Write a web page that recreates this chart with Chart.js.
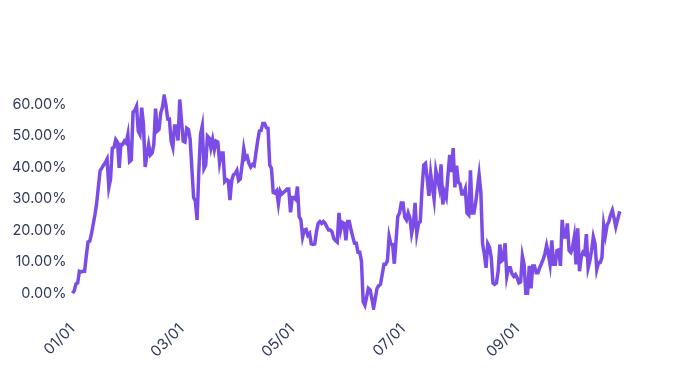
<!DOCTYPE html>
<html>
<head>
<meta charset="utf-8">
<script src="https://cdn.jsdelivr.net/npm/chart.js@4"></script>
<style>
  html, body { margin: 0; padding: 0; background: #fff; }
  #wrap { width: 690px; height: 388px; }
</style>
</head>
<body>
<div id="wrap"><canvas id="myChart"></canvas></div>
<script>
// tick labels shown on the x axis and the point index where each one sits
var tickLabels = ["01/01", "03/01", "05/01", "07/01", "09/01"];
var tickIndex = [0, 63, 127, 191, 257];
// y axis ticks, in %
var yTicks = [0, 10, 20, 30, 40, 50, 60];

// values in % from left to right
var rateA = [0, 0.8, 3, 3.3, 7, 6.8, 7, 7, 12, 16.3, 16.6, 19, 22, 25, 28.7, 34, 39, 39.8, 40.7, 41.5,
  42.6, 33.6, 36.3, 46, 46.3, 48.8, 48, 39.8, 47.2, 47.2, 48.3, 47.7, 50.4, 41.8, 42.3, 57.5, 58, 59.3, 51.5, 50.4,
  58.9, 53.7, 40.1, 43.9, 47.2, 43.9, 44.5, 47.2, 58.6, 51.5, 52, 57.2, 59.1, 62.6, 59.7, 55.3, 55.3, 48.3, 46.3, 53.1,
  53.1, 48.5, 61.5, 54.8, 48.3, 48, 52.4, 52, 48.8, 39.6, 30.4, 29.3, 23.3, 38.5, 50.4, 53.1, 39.6];
var rateB = [40.7, 49.9, 49.3, 46.1, 48.8, 45.6, 48.3, 48, 41.5, 44.5,
  44.5, 35.5, 36.1, 35.8, 29.6, 35.8, 37.6, 38, 39, 35.8,
  36.3, 40.7, 45.9, 42.8, 43.4, 41.2, 40.1, 40.9, 40.5, 44.5,
  48.3, 51.5, 51.7, 53.9, 53.9, 52.6, 52.4, 40.7, 39.6, 32,
  31.8, 32.5, 28.5, 32.5, 31.5, 32, 32.5, 33.1, 33.1, 25.7,
  30.4, 30.4, 29.8, 33.9, 24.4, 23.3, 17.9, 20.1, 20.3, 18.4,
  19, 15.7, 15.5, 15.7, 19.5, 22.2, 22.8, 22.2, 22.8, 22.2,
  21.1, 20.1, 20.1, 19.5, 17.4, 16.8, 16.3];
var rateC = [25.5, 20.1, 22.5, 22.2, 16.8, 22.8, 22.8, 20.1, 17.9, 15.9,
  15.9, 13, 13, 10.3, -2.7, -3.8, -1.1, 1.6, 1.1, -1.6,
  -4.7, -1.6, 1.6, 2.5, 2.9, 6, 9.2, 9.2, 10.3, 18.1,
  15.7, 15.5, 9.4, 16.8, 24.4, 25.5, 28.7, 28.7, 24.2, 23.3,
  25.5, 23.9, 19, 21.7, 28.7, 19, 22.2, 22.8, 33.1, 40.7,
  41.2, 36.3, 30.9, 38, 33.6, 29.8, 39, 36.3, 33.6, 40.9,
  28.2, 32, 30.4, 37.6, 43.9, 38.5, 46.1, 33.6, 40.5, 35.2,
  34.7, 31.5, 31.5, 33.1, 25.5];
var rateD = [24.9, 39, 25.5, 25.5, 28.7, 33.1, 37.6, 32, 15.7, 12.5,
  8.1, 15.7, 14.6, 11.4, 3.3, 2.9, 3.3, 7, 15.5, 10.3,
  10.8, 15.9, 5.4, 8.1, 8.1, 6.2, 5.4, 6, 4.9, 3.3,
  3.6, 11.9, 9.2, 0, 0, 8.7, 1.6, 8.7, 8.7, 6.5,
  6.5, 8.1, 9.4, 10.8, 12.5, 15.2, 12.5, 9.2, 16.8, 9.2,
  9.2, 13.6, 13.8, 8.7, 23.3, 17.9, 17.9, 22.2, 13.6, 13,
  14.6, 17.9, 9.2, 20.6, 7, 11.4, 13, 12.5, 18.8, 8.1,
  10.3, 13.6, 17.9, 15.7, 7.6, 9.8, 9.8, 11.4, 21.7, 18.4,
  21.7, 22.8, 24.9, 26.4, 23.9, 21.1, 23.3, 25.5, 25.3];

var yValues = rateA.concat(rateB, rateC, rateD);
var xValues = yValues.map(function (v, i) {
  var k = tickIndex.indexOf(i);
  return k >= 0 ? tickLabels[k] : "";
});

var textColor = "#2f3a5c";

new Chart("myChart", {
  type: "line",
  data: {
    labels: xValues,
    datasets: [{
      data: yValues,
      borderColor: "#7b4ce6",
      borderWidth: 3.5,
      pointRadius: 0,
      tension: 0,
      fill: false
    }]
  },
  options: {
    responsive: true,
    maintainAspectRatio: false,
    animation: false,
    layout: { padding: { top: 96, right: 69, bottom: 15, left: 6 } },
    plugins: {
      legend: { display: false },
      tooltip: { enabled: false }
    },
    scales: {
      x: {
        border: { display: false },
        grid: { display: false, drawTicks: false },
        ticks: {
          autoSkip: false,
          minRotation: 45,
          maxRotation: 45,
          padding: 12,
          color: textColor,
          font: { family: "Inter", size: 15 }
        }
      },
      y: {
        bounds: "data",
        border: { display: false },
        grid: { display: false, drawTicks: false },
        afterBuildTicks: function (axis) {
          axis.ticks = yTicks.map(function (v) { return { value: v }; });
        },
        ticks: {
          padding: 6,
          color: textColor,
          font: { family: "Inter", size: 14.5 },
          callback: function (v) { return v.toFixed(2) + "%"; }
        }
      }
    }
  }
});
</script>
</body>
</html>
